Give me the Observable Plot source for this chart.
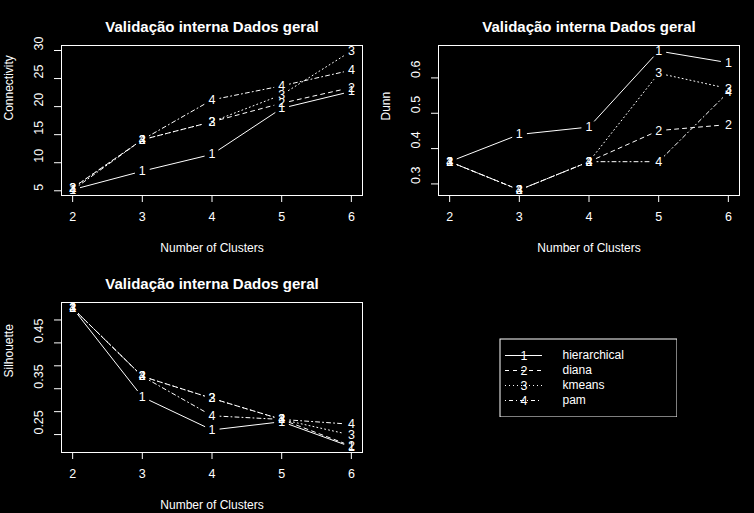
<!DOCTYPE html>
<html><head><meta charset="utf-8">
<script src="https://cdn.jsdelivr.net/npm/d3@7"></script>
<script src="https://cdn.jsdelivr.net/npm/@observablehq/plot@0.6"></script>
<style>
html,body{margin:0;padding:0;background:#000;}
#wrap{position:relative;width:754px;height:513px;background:#000;overflow:hidden;}
#wrap > svg, #wrap > figure{position:absolute;margin:0;}
</style></head><body><div id="wrap"></div>
<script>
// ---- data ----
const clusters = [2, 3, 4, 5, 6];
const methods = ["hierarchical", "diana", "kmeans", "pam"];
const methodCodes = ["1", "2", "3", "4"];
const chartTitle = "Validação interna Dados geral";
const xTitle = "Number of Clusters";

const connHier   = [5.2, 8.5, 11.5, 19.7, 22.7];
const connDiana  = [5.5, 14.1, 17.3, 20.6, 23.4];
const connKmeans = [5.5, 14.1, 17.3, 22.1, 29.9];
const connPam    = [5.15, 14.1, 21.2, 23.7, 26.5];

const dunnHier   = [0.363, 0.440, 0.461, 0.676, 0.643];
const dunnDiana  = [0.363, 0.283, 0.363, 0.451, 0.468];
const dunnKmeans = [0.363, 0.283, 0.363, 0.613, 0.570];
const dunnPam    = [0.363, 0.283, 0.363, 0.363, 0.560];

const silHier   = [0.526, 0.332, 0.260, 0.278, 0.223];
const silDiana  = [0.526, 0.377, 0.329, 0.283, 0.225];
const silKmeans = [0.526, 0.377, 0.329, 0.283, 0.249];
const silPam    = [0.526, 0.377, 0.291, 0.283, 0.2725];

const connTicks = [5, 10, 15, 20, 25, 30];
const connTickLabels = [5, 10, 15, 20, 25, 30];
const dunnTicks = [0.3, 0.4, 0.5, 0.6];
const dunnTickLabels = [0.3, 0.4, 0.5, 0.6];
const silTicks = [0.25, 0.30, 0.35, 0.40, 0.45, 0.50];
const silTickLabels = [0.25, 0.35, 0.45];

// ---- styles ----
const lineDashes = [undefined, "4,4", "1,3", "1,3,4,3"];
const FONT = "'Liberation Sans', Arial, Helvetica, sans-serif";
const wrap = document.getElementById("wrap");

function panel({series, yTitle, yTicks, yTickLabels, left, top, height}) {
  const all = series.flat();
  const [lo, hi] = d3.extent(all);
  const pad = (hi - lo) * 0.04;
  const xlo = d3.min(clusters), xhi = d3.max(clusters);
  const xpad = (xhi - xlo) * 0.04;
  const marks = [];
  series.forEach((vals, k) => {
    const pts = clusters.map((c, i) => ({x: c, y: vals[i]}));
    const segs = d3.pairs(pts).map(([a, b]) => ({x1: a.x, y1: a.y, x2: b.x, y2: b.y}));
    marks.push(Plot.arrow(segs, {
      x1: "x1", y1: "y1", x2: "x2", y2: "y2", bend: 0, headLength: 0,
      insetStart: 8, insetEnd: 8, stroke: "white", strokeWidth: 1,
      strokeDasharray: lineDashes[k]
    }));
  });
  series.forEach((vals, k) => {
    const pts = clusters.map((c, i) => ({x: c, y: vals[i]}));
    marks.push(Plot.text(pts, {x: "x", y: "y", text: () => methodCodes[k], fill: "white", fontSize: 12.5}));
  });
  marks.push(
    Plot.frame({stroke: "white", strokeWidth: 1}),
    Plot.axisX({ticks: clusters, tickSize: 7, tickFormat: () => "", label: null, stroke: "white"}),
    Plot.axisY({ticks: yTicks, tickSize: 7, tickFormat: () => "", label: null, stroke: "white"}),
    Plot.text(clusters, {x: d => d, text: d => String(d), frameAnchor: "bottom", dy: 25.5, fill: "white", fontSize: 12.5}),
    Plot.text(yTickLabels, {y: d => d, text: d => String(d), frameAnchor: "left", dx: -22.5, rotate: -90, fill: "white", fontSize: 12.5}),
    Plot.text([chartTitle], {text: d => d, frameAnchor: "top", dy: -24.5, fill: "white", fontWeight: "bold", fontSize: 15}),
    Plot.text([xTitle], {text: d => d, frameAnchor: "bottom", dy: 56, fill: "white", fontSize: 12}),
    Plot.text([yTitle], {text: d => d, frameAnchor: "left", dx: -52, rotate: -90, fill: "white", fontSize: 12})
  );
  const svg = Plot.plot({
    width: 377, height,
    marginLeft: 61, marginRight: 15, marginTop: height === 256 ? 45 : 46, marginBottom: 61,
    x: {domain: [xlo - xpad, xhi + xpad], axis: null},
    y: {domain: [lo - pad, hi + pad], axis: null},
    style: {background: "black", color: "white", fontFamily: FONT, fontSize: "12px", overflow: "visible"},
    marks
  });
  svg.style.left = left + "px";
  svg.style.top = top + "px";
  wrap.appendChild(svg);
}

panel({series: [connHier, connDiana, connKmeans, connPam], yTitle: "Connectivity",
  yTicks: connTicks, yTickLabels: connTickLabels, left: 0, top: 0, height: 256});
panel({series: [dunnHier, dunnDiana, dunnKmeans, dunnPam], yTitle: "Dunn",
  yTicks: dunnTicks, yTickLabels: dunnTickLabels, left: 377, top: 0, height: 256});
panel({series: [silHier, silDiana, silKmeans, silPam], yTitle: "Silhouette",
  yTicks: silTicks, yTickLabels: silTickLabels, left: 0, top: 256, height: 257});

// ---- legend ----
const legendMarks = [Plot.frame({stroke: "white", strokeWidth: 1, inset: 0.5})];
methods.forEach((m, k) => {
  legendMarks.push(Plot.ruleY([m], {y: d => d, x1: 6, x2: 43, stroke: "white", strokeWidth: 1, strokeDasharray: lineDashes[k]}));
});
legendMarks.push(
  Plot.text(methods, {y: d => d, x: 24.5, text: (d, i) => methodCodes[i], fill: "white", fontSize: 12.5}),
  Plot.text(methods, {y: d => d, x: 63, text: d => d, textAnchor: "start", fill: "white", fontSize: 12})
);
const legend = Plot.plot({
  width: 178, height: 79, margin: 0,
  x: {type: "identity", axis: null},
  y: {type: "point", domain: methods, range: [16.5, 63], padding: 0, axis: null},
  style: {background: "black", color: "white", fontFamily: FONT, fontSize: "12px"},
  marks: legendMarks
});
legend.style.left = "499px";
legend.style.top = "338px";
wrap.appendChild(legend);
</script>
</body></html>
